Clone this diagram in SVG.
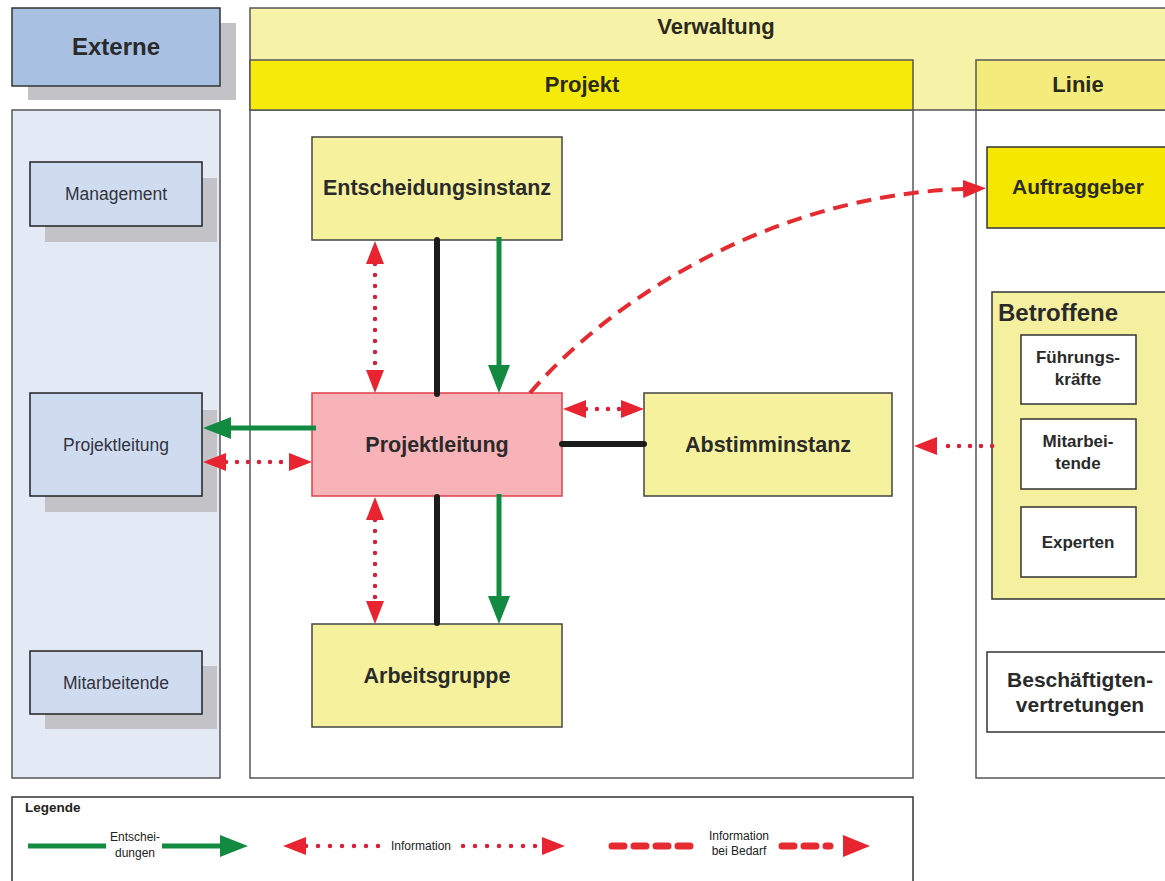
<svg xmlns="http://www.w3.org/2000/svg" width="1165" height="881" viewBox="0 0 1165 881">
<style>
.t{font-family:"Liberation Sans",Arial,sans-serif;fill:#2a2a2a;text-anchor:middle}
.b{font-weight:bold}
.hd{font-family:"Liberation Sans Narrow","Liberation Sans",Arial,sans-serif;font-weight:bold;font-size:22px;fill:#2a2a1a;text-anchor:middle}
.ctr{font-size:21.5px}
.lf{font-size:17.5px;fill:#333340}
.shadow{fill:#c3c3c7}
.lnode{fill:#cfdcef;stroke:#222;stroke-width:1.5}
.ynode{fill:#f5f19d;stroke:#444;stroke-width:1.5}
.wnode{fill:#fff;stroke:#333;stroke-width:1.5}
.panel{stroke:#555;stroke-width:1.5}
.green{stroke:#138a42;stroke-width:5;fill:none}
.dot{stroke:#d8203a;stroke-width:4.5;stroke-linecap:round;stroke-dasharray:0 11;fill:none}
.dash{stroke:#e52a30;stroke-width:4;stroke-dasharray:15 9;fill:none}
.blk{stroke:#1c1c1c;stroke-width:6;stroke-linecap:round;fill:none}
.lg{font-family:"Liberation Sans Narrow","Liberation Sans",Arial,sans-serif;font-size:12px;fill:#222;text-anchor:middle}
</style>
<defs>
<marker id="gh" markerUnits="userSpaceOnUse" markerWidth="28" markerHeight="24" refX="0" refY="12" orient="auto"><path d="M0,1 L28,12 L0,23 z" fill="#138a42"/></marker>
<marker id="rh" markerUnits="userSpaceOnUse" markerWidth="23" markerHeight="20" refX="0" refY="10" orient="auto-start-reverse"><path d="M0,1 L23,10 L0,19 z" fill="#e82430"/></marker>
</defs>
<rect width="1165" height="881" fill="#fff"/>

<g id="externe">
<rect class="shadow" x="28" y="23" width="208" height="77"/>
<rect x="12" y="8" width="208" height="78" fill="#a8c0e2" stroke="#333" stroke-width="1.5"/>
<text class="t b" x="116" y="55" font-size="24">Externe</text>
</g>
<g id="externe-panel">
<rect class="panel" x="12" y="110" width="208" height="668" fill="#e3eaf5"/>
</g>
<g id="ext-management">
<rect class="shadow" x="45" y="178" width="172" height="64"/>
<rect class="lnode" x="30" y="162" width="172" height="64"/>
<text class="t lf" x="116" y="200">Management</text>
</g>
<g id="ext-projektleitung">
<rect class="shadow" x="45" y="410" width="172" height="102"/>
<rect class="lnode" x="30" y="393" width="172" height="103"/>
<text class="t lf" x="116" y="451">Projektleitung</text>
</g>
<g id="ext-mitarbeitende">
<rect class="shadow" x="45" y="666" width="172" height="63"/>
<rect class="lnode" x="30" y="651" width="172" height="63"/>
<text class="t lf" x="116" y="689">Mitarbeitende</text>
</g>

<g id="verwaltung">
<rect class="panel" x="250" y="8" width="925" height="102" fill="#f6f2a8"/>
<text class="hd" x="716" y="34">Verwaltung</text>
</g>
<g id="projekt">
<rect class="panel" x="250" y="110" width="663" height="668" fill="#fff"/>
<rect class="panel" x="250" y="60" width="663" height="50" fill="#f5ea0a"/>
<text class="hd" x="582" y="92">Projekt</text>
</g>
<g id="linie">
<rect class="panel" x="976" y="110" width="200" height="668" fill="#fff"/>
<rect class="panel" x="976" y="60" width="200" height="50" fill="#f3ec7c"/>
<text class="hd" x="1078" y="92">Linie</text>
</g>

<g id="entscheidungsinstanz">
<rect class="ynode" x="312" y="137" width="250" height="103"/>
<text class="t b ctr" x="437" y="195">Entscheidungsinstanz</text>
</g>
<g id="projektleitung">
<rect x="312" y="393" width="250" height="103" fill="#f7b3b8" stroke="#e0404a" stroke-width="1.5"/>
<text class="t b ctr" x="437" y="452">Projektleitung</text>
</g>
<g id="abstimminstanz">
<rect class="ynode" x="644" y="393" width="248" height="103"/>
<text class="t b ctr" x="768" y="452">Abstimminstanz</text>
</g>
<g id="arbeitsgruppe">
<rect class="ynode" x="312" y="624" width="250" height="103"/>
<text class="t b ctr" x="437" y="683">Arbeitsgruppe</text>
</g>

<g id="auftraggeber">
<rect x="987" y="147" width="190" height="81" fill="#f4e800" stroke="#333" stroke-width="1.5"/>
<text class="t b" x="1078" y="194" font-size="21">Auftraggeber</text>
</g>
<g id="betroffene">
<rect x="992" y="292" width="185" height="307" fill="#f5f0a0" stroke="#333" stroke-width="1.5"/>
<text class="t b" x="998" y="321" font-size="24" style="text-anchor:start">Betroffene</text>
</g>
<g id="fuehrungskraefte">
<rect class="wnode" x="1021" y="335" width="115" height="69"/>
<text class="t b" x="1078" y="363" font-size="17">Führungs-</text>
<text class="t b" x="1078" y="385" font-size="17">kräfte</text>
</g>
<g id="mitarbeitende">
<rect class="wnode" x="1021" y="419" width="115" height="70"/>
<text class="t b" x="1078" y="447" font-size="17">Mitarbei-</text>
<text class="t b" x="1078" y="469" font-size="17">tende</text>
</g>
<g id="experten">
<rect class="wnode" x="1021" y="507" width="115" height="70"/>
<text class="t b" x="1078" y="548" font-size="17">Experten</text>
</g>
<g id="beschaeftigtenvertretungen">
<rect class="wnode" x="987" y="652" width="190" height="80"/>
<text class="t b" x="1080" y="687" font-size="21">Beschäftigten-</text>
<text class="t b" x="1080" y="712" font-size="21">vertretungen</text>
</g>

<g id="connectors">
<line class="blk" x1="437" y1="240" x2="437" y2="394"/>
<line class="blk" x1="437" y1="497" x2="437" y2="623"/>
<line class="blk" x1="562" y1="444" x2="644" y2="444"/>
<line class="green" x1="499" y1="237" x2="499" y2="365" marker-end="url(#gh)"/>
<line class="green" x1="499" y1="494" x2="499" y2="596" marker-end="url(#gh)"/>
<line class="green" x1="316" y1="428" x2="231" y2="428" marker-end="url(#gh)"/>
<path class="dot" d="M375,264 L375,370" marker-start="url(#rh)" marker-end="url(#rh)"/>
<path class="dot" d="M375,520 L375,601" marker-start="url(#rh)" marker-end="url(#rh)"/>
<path class="dot" d="M226,462 L289,462" marker-start="url(#rh)" marker-end="url(#rh)"/>
<path class="dot" d="M586,409 L621,409" marker-start="url(#rh)" marker-end="url(#rh)"/>
<path class="dot" d="M992,446 L937,446" marker-end="url(#rh)"/>
<path class="dash" d="M530,393 C610,300 770,196 963,189" marker-end="url(#rh)"/>
</g>

<g id="legende">
<rect x="12" y="797" width="901" height="95" fill="#fff" stroke="#333" stroke-width="1.5"/>
<text x="25" y="812" font-family="Liberation Sans, Arial, sans-serif" font-weight="bold" font-size="13.5" fill="#222">Legende</text>
<line class="green" x1="28" y1="846" x2="106" y2="846"/>
<line class="green" x1="162" y1="846" x2="220" y2="846" marker-end="url(#gh)"/>
<text class="lg" x="135" y="841">Entschei-</text>
<text class="lg" x="135" y="857">dungen</text>
<path class="dot" d="M306,846 L380,846" marker-start="url(#rh)" style="stroke-dasharray:0 12"/>
<path class="dot" d="M463,846 L542,846" marker-end="url(#rh)" style="stroke-dasharray:0 12"/>
<text class="lg" x="421" y="850">Information</text>
<path class="dash" d="M612,846 L690,846" style="stroke-dasharray:12 10;stroke-width:7;stroke-linecap:round"/>
<path class="dash" d="M782,846 L830,846" style="stroke-dasharray:12 10;stroke-width:7;stroke-linecap:round"/>
<path d="M843,835 L870,846 L843,857 z" fill="#e82430"/>
<text class="lg" x="739" y="840">Information</text>
<text class="lg" x="739" y="855">bei Bedarf</text>
</g>
</svg>
